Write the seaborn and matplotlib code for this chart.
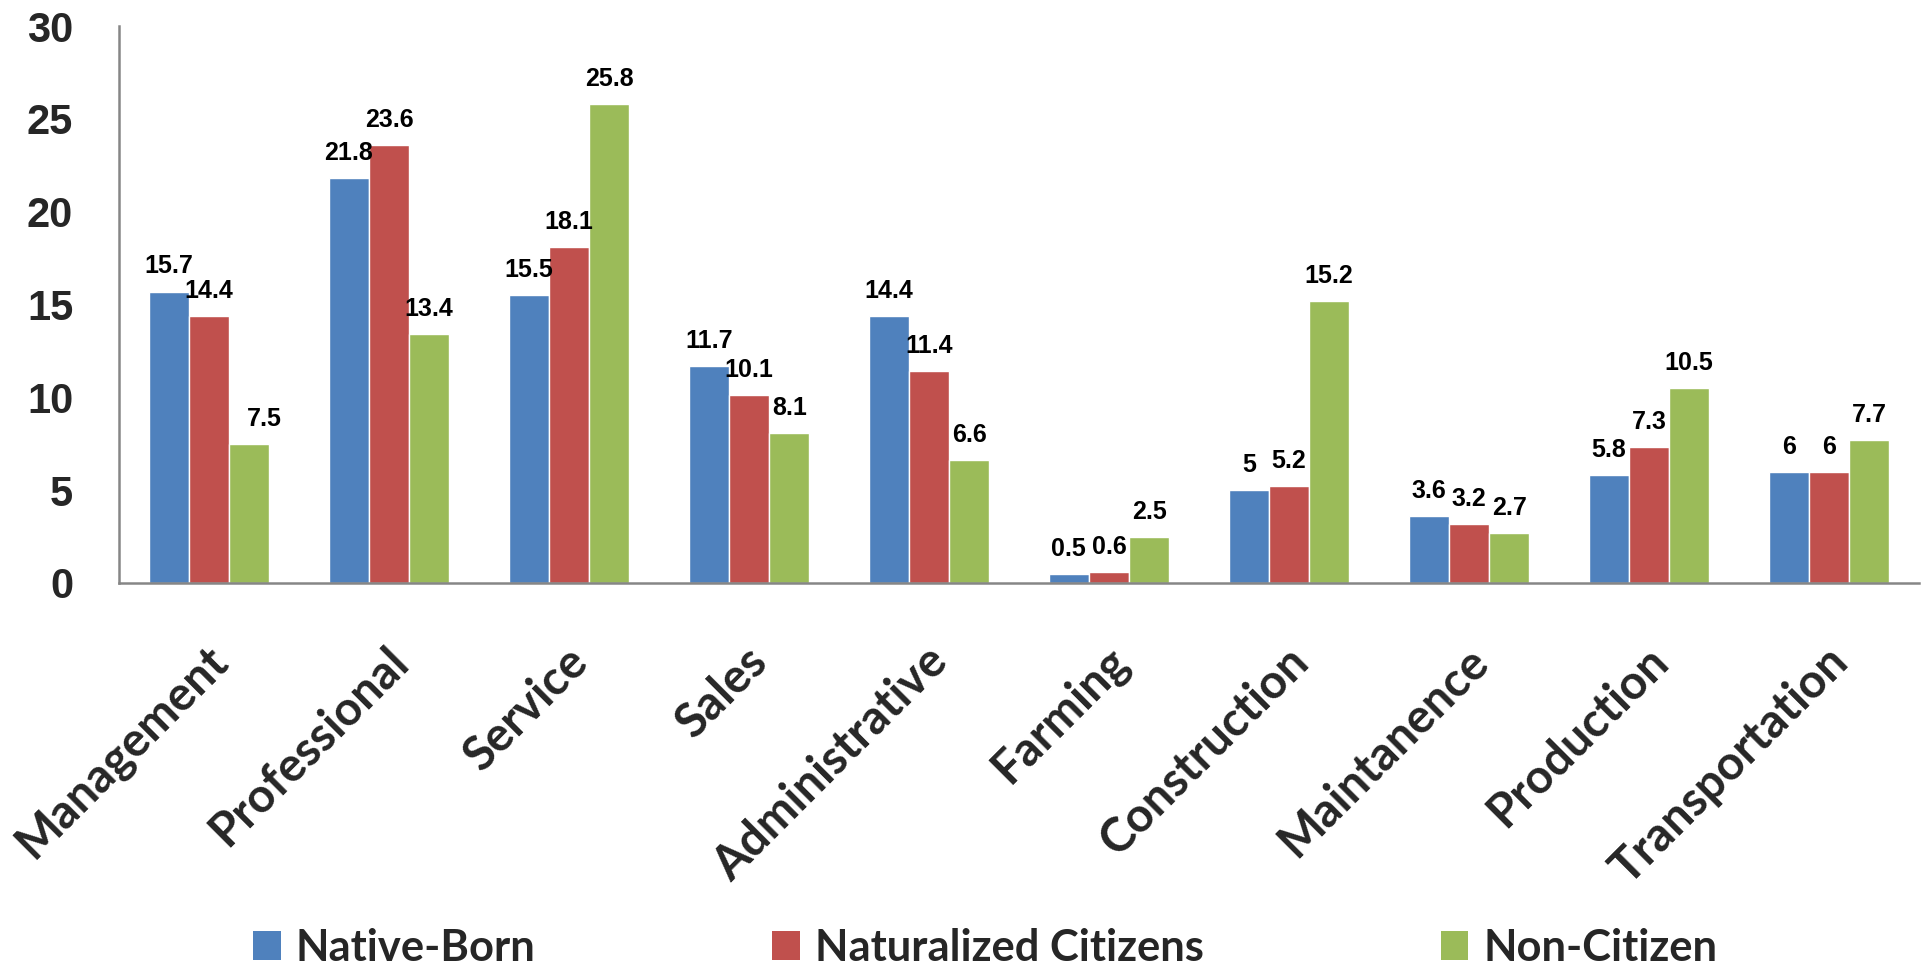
import numpy as np
import pandas as pd
import seaborn as sns
import matplotlib.pyplot as plt
from matplotlib.patches import Patch
from matplotlib.transforms import ScaledTranslation

# Occupational distribution (%) by nativity / citizenship status
categories = ["Management", "Professional", "Service", "Sales", "Administrative",
              "Farming", "Construction", "Maintanence", "Production", "Transportation"]
native_born = [15.7, 21.8, 15.5, 11.7, 14.4, 0.5, 5, 3.6, 5.8, 6]
naturalized_citizens = [14.4, 23.6, 18.1, 10.1, 11.4, 0.6, 5.2, 3.2, 7.3, 6]
non_citizen = [7.5, 13.4, 25.8, 8.1, 6.6, 2.5, 15.2, 2.7, 10.5, 7.7]
series_names = ["Native-Born", "Naturalized Citizens", "Non-Citizen"]
y_ticks = [0, 5, 10, 15, 20, 25, 30]

palette = ["#4F81BD", "#C0504D", "#9BBB59"]
axis_grey = "#868686"

df = pd.DataFrame({
    "Occupation": categories * 3,
    "Group": np.repeat(series_names, len(categories)),
    "Share": native_born + naturalized_citizens + non_citizen,
})

sns.set_style("white")
fig = plt.figure(figsize=(19.29, 9.67), dpi=100)
ax = fig.add_axes([119 / 1929, 1 - 583 / 967, 1800 / 1929, 557 / 967])

sns.barplot(data=df, x="Occupation", y="Share", hue="Group",
            order=categories, hue_order=series_names, palette=palette,
            width=0.67, gap=0, saturation=1, errorbar=None,
            legend=False, ax=ax)

ax.set_xlim(-0.5, len(categories) - 0.5)
ax.set_ylim(0, 30)
ax.set_xlabel("")
ax.set_ylabel("")

# Value labels above each bar
label_font = dict(family="Liberation Sans", weight="bold", size=18)
nudge_px = {(0, 2): 15}
for s_idx, container in enumerate(ax.containers):
    for c_idx, bar in enumerate(container.patches):
        v = bar.get_height()
        dx = nudge_px.get((c_idx, s_idx), 0) * 72 / fig.dpi
        ax.annotate(f"{v:g}", xy=(bar.get_x() + bar.get_width() / 2, v),
                    xytext=(dx, 13), textcoords="offset points",
                    ha="center", va="baseline", color="black", **label_font)

# Spines
for side in ("top", "right"):
    ax.spines[side].set_visible(False)
for side in ("left", "bottom"):
    ax.spines[side].set_color(axis_grey)
    ax.spines[side].set_linewidth(1.8)

# Y axis
ax.set_yticks(y_ticks)
ax.set_yticklabels([str(t) for t in y_ticks])
ax.tick_params(axis="y", direction="out", length=12, width=1.8, color=axis_grey, pad=21)
for lab in ax.get_yticklabels():
    lab.set_fontfamily("Liberation Sans")
    lab.set_fontweight("bold")
    lab.set_fontsize(30)

# X axis: category labels at centres, tick marks at category boundaries
ax.set_xticks(range(len(categories)))
ax.set_xticklabels(categories)
ax.set_xticks(np.arange(-0.5, len(categories), 1), minor=True)
ax.tick_params(axis="x", which="major", length=0, pad=40)
ax.tick_params(axis="x", which="minor", direction="out", length=11, width=1.8, color=axis_grey)
shift = ScaledTranslation(-4 / 100, 0, fig.dpi_scale_trans)
for lab in ax.get_xticklabels():
    lab.set_fontfamily("Lato")
    lab.set_fontweight("bold")
    lab.set_fontsize(34)
    lab.set_rotation(45)
    lab.set_ha("right")
    lab.set_va("top")
    lab.set_rotation_mode("anchor")
    lab.set_transform(lab.get_transform() + shift)

# Legend along the bottom
handles = [Patch(facecolor=c, edgecolor="none", label=n) for c, n in zip(palette, series_names)]
fig.legend(handles=handles, loc="center", bbox_to_anchor=(985 / 1929, 1 - 948 / 967),
           ncol=3, frameon=False,
           prop=dict(family="Lato", weight="bold", size=31.3),
           handlelength=0.64, handleheight=0.64, handletextpad=0.34,
           columnspacing=5.45, borderpad=0)

fig.savefig("out.png", dpi=100, facecolor="white")
